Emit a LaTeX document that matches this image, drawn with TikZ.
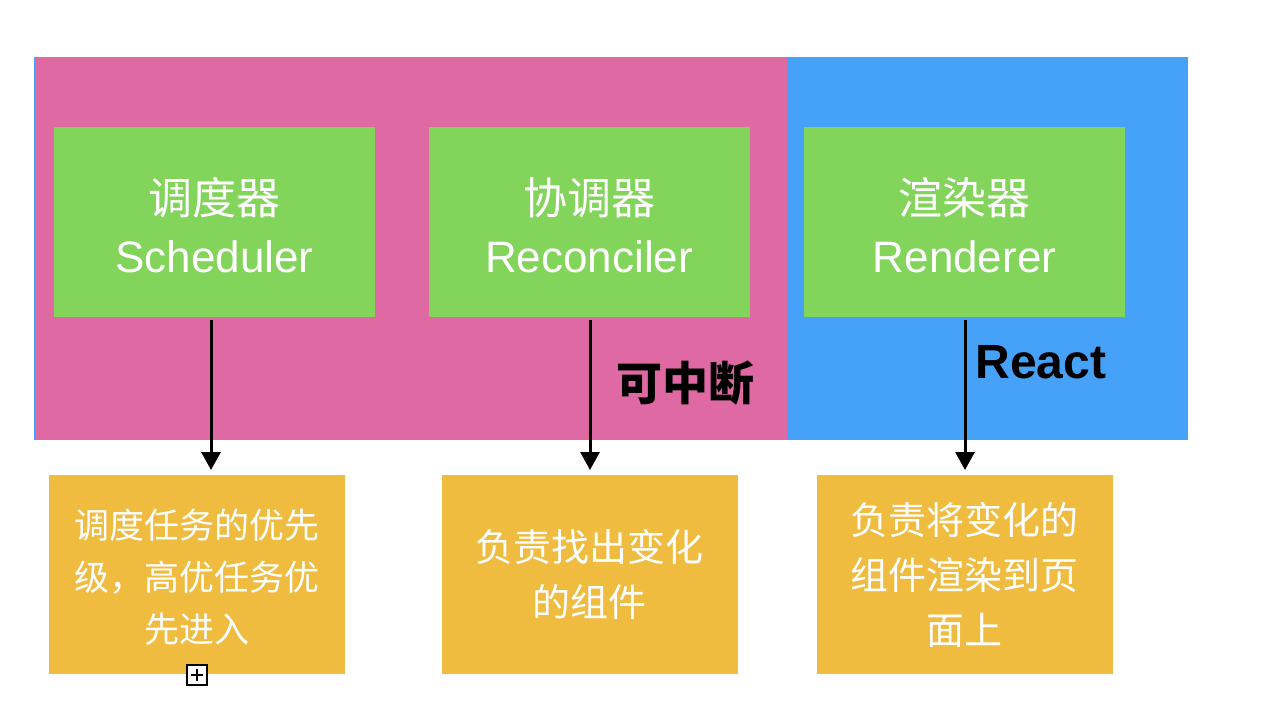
\documentclass[tikz,border=0pt]{standalone}
\usepackage{fontspec}
\setmainfont{Liberation Sans}
\newfontfamily\cjk{Noto Sans CJK SC}
\usetikzlibrary{arrows.meta}
\definecolor{pinkbg}{HTML}{DF69A3}
\definecolor{bluebg}{HTML}{46A2F8}
\definecolor{greenbox}{HTML}{82D45A}
\definecolor{orangebox}{HTML}{F0BC40}
\tikzset{
  module/.style={fill=greenbox, text=white, inner sep=0, outer sep=0,
    minimum width=321, minimum height=190, align=center,
    font=\fontsize{44}{58}\selectfont},
  duty/.style={fill=orangebox, text=white, inner sep=0, outer sep=0,
    minimum width=296, minimum height=199, align=center,
    font=\cjk\fontsize{38}{55}\selectfont},
  overlay text/.style={fill=none},
  note/.style={inner sep=0, text=black},
  arr/.style={line width=3pt, -{Triangle[length=18pt,width=19pt]}},
  iconbox/.style={draw=black, line width=1.5pt, fill=white, minimum size=20, inner sep=0}
}
\begin{document}
\begin{tikzpicture}[x=1pt,y=-1pt]
\useasboundingbox (0,0) rectangle (1274,720);
\fill[white] (0,0) rectangle (1274,720);
% background regions
\fill[pinkbg] (34,57) rectangle (787,440);
\fill[bluebg] (787,57) rectangle (1188,440);
\draw[bluebg, line width=1.5pt] (34.75,57) -- (34.75,440);
% modules
\node[module] (sched) at (214.5,222) {};
\node[module] (recon) at (589,222) {};
\node[module] (rend) at (964.5,222) {};
\node[module, overlay text] (schedtext) at (214.5,225) {{\cjk 调度器}\\Scheduler};
\node[module, overlay text] (recontext) at (589,225) {{\cjk 协调器}\\Reconciler};
\node[module, overlay text] (rendtext) at (964.5,225) {{\cjk 渲染器}\\Renderer};
% duties
\node[duty] (d1) at (197,574.5) {};
\node[duty, overlay text, font=\cjk\fontsize{35}{52}\selectfont] (d1text) at (197,577.5) {调度任务的优先\\级，高优任务优\\先进入};
\node[duty] (d2) at (589.5,574.5) {负责找出变化\\的组件};
\node[duty] (d3) at (964.5,574.5) {负责将变化的\\组件渲染到页\\面上};
% labels
\node[note, font=\cjk\bfseries\fontsize{46}{46}\selectfont] (interrupt) at (685,383) {可中断};
\node[note, font=\bfseries\fontsize{48}{48}\selectfont] (react) at (1041,362) {React};
% arrows
\draw[arr] ([shift={(-3.5,3)}]sched.south) -- ([shift={(14,-5)}]d1.north);
\draw[arr] ([shift={(1,3)}]recon.south) -- ([shift={(0.5,-5)}]d2.north);
\draw[arr] ([shift={(0.5,3)}]rend.south) -- ([shift={(0.5,-5)}]d3.north);
% small icon
\node[iconbox] (icon) at (197,675) {};
\draw[line width=1.5pt] ([xshift=-6]icon.center) -- ([xshift=6]icon.center);
\draw[line width=1.5pt] ([yshift=-6]icon.center) -- ([yshift=6]icon.center);
\end{tikzpicture}
\end{document}
